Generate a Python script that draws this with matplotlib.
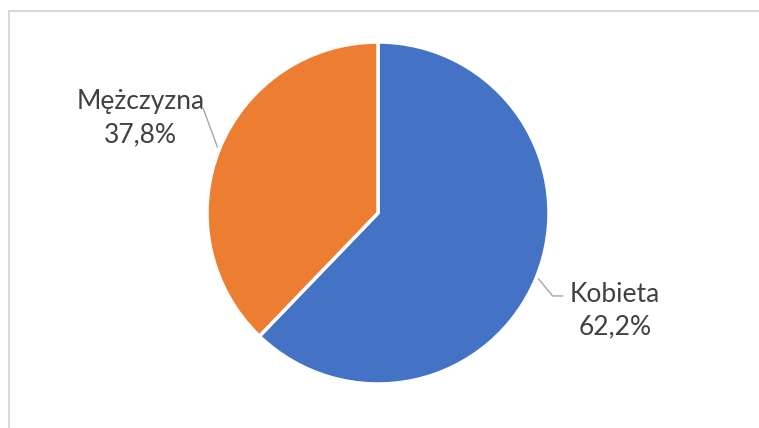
import numpy as np
import matplotlib.pyplot as plt
from matplotlib.patches import Rectangle

labels = ["Kobieta", "Mężczyzna"]
shares = [62.2, 37.8]
colors = ["#4472C4", "#ED7D31"]

W, H = 759, 428
fig = plt.figure(figsize=(W / 100, H / 100), dpi=100)
ax = fig.add_axes([0, 0, 1, 1])

# chart area border (runs off the right and bottom of the picture)
ax.add_patch(Rectangle((8.5, -20), W + 20, H - 10.5 + 20, fill=False,
                       edgecolor="#D9D9D9", linewidth=1.5))

cx, cy, R = 378, 215, 171
wedges, _ = ax.pie(shares, colors=colors, startangle=90, counterclock=False,
                   center=(cx, cy), radius=R, frame=True,
                   wedgeprops=dict(edgecolor="white", linewidth=2.5))
ax.set_xlim(0, W)
ax.set_ylim(0, H)
ax.set_aspect("equal")
ax.axis("off")

txt_kw = dict(fontsize=19, color="#404040", family=["Lato", "DejaVu Sans"],
              ha="center", va="center", linespacing=1.4)
for w, lab, val in zip(wedges, labels, shares):
    ang = np.deg2rad((w.theta1 + w.theta2) / 2)
    c, s = np.cos(ang), np.sin(ang)
    x0, y0 = cx + R * c, cy + R * s
    if c > 0:
        tx, ty = cx + 1.48 * R * c + 2, cy + 1.48 * R * s - 3
        xe, ye = x0 + 16, y0 - 19
        ax.plot([x0 + 2, xe, xe + 10], [y0 - 2, ye, ye], color="#A6A6A6", lw=1)
    else:
        tx, ty = cx + 1.48 * R * c - 3, cy + 1.48 * R * s
        ax.plot([x0 - 2, x0 - 16], [y0 + 2, y0 + 40], color="#A6A6A6", lw=1)
    ax.text(tx, ty, f"{lab}\n{val:.1f}%".replace(".", ","), **txt_kw)

fig.savefig("out.png", dpi=100)
